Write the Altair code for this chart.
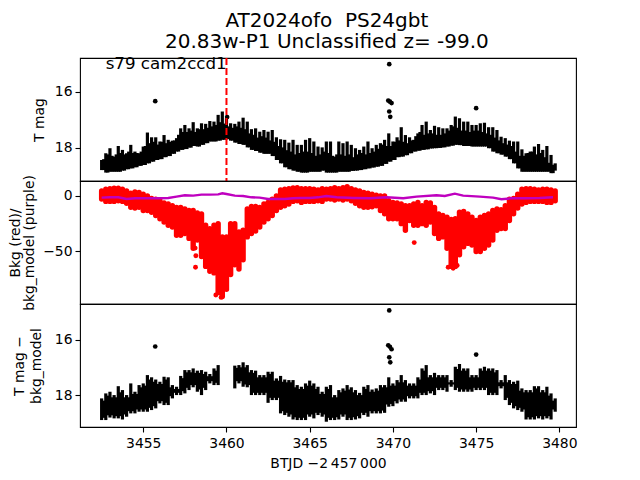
import altair as alt
import pandas as pd

FONT = "DejaVu Sans"

days = [
    3452.5, 3452.75, 3453.0, 3453.25, 3453.5, 3453.75, 3454.0, 3454.25, 3454.5, 3454.75, 3455.0,
    3455.25, 3455.5, 3455.75, 3456.0, 3456.25, 3456.5, 3456.75, 3457.0, 3457.25, 3457.5, 3457.75,
    3458.0, 3458.25, 3458.5, 3458.75, 3459.0, 3459.25, 3459.5, 3459.75, 3460.0, 3460.25, 3460.5,
    3460.75, 3461.0, 3461.25, 3461.5, 3461.75, 3462.0, 3462.25, 3462.5, 3462.75, 3463.0, 3463.25,
    3463.5, 3463.75, 3464.0, 3464.25, 3464.5, 3464.75, 3465.0, 3465.25, 3465.5, 3465.75, 3466.0,
    3466.25, 3466.5, 3466.75, 3467.0, 3467.25, 3467.5, 3467.75, 3468.0, 3468.25, 3468.5, 3468.75,
    3469.0, 3469.25, 3469.5, 3469.75, 3470.0, 3470.25, 3470.5, 3470.75, 3471.0, 3471.25, 3471.5,
    3471.75, 3472.0, 3472.25, 3472.5, 3472.75, 3473.0, 3473.25, 3473.5, 3473.75, 3474.0, 3474.25,
    3474.5, 3474.75, 3475.0, 3475.25, 3475.5, 3475.75, 3476.0, 3476.25, 3476.5, 3476.75, 3477.0,
    3477.25, 3477.5, 3477.75, 3478.0, 3478.25, 3478.5, 3478.75, 3479.0, 3479.25, 3479.5, 3479.75,
]
mid_days = [d + 0.125 for d in days[:-1]]

# top panel: T mag band (bright edge, faint edge)
mag_top = [
    18.43, 18.19, 18.01, 18.31, 17.93, 18.07, 18.19, 17.89, 18.13, 18.19, 17.95, 17.45, 17.62, 17.62,
    17.77, 17.54, 17.71, 17.74, 17.65, 17.30, 17.18, 17.30, 17.08, 17.30, 17.12, 17.14, 17.04, 17.06,
    16.82, 16.70, 16.94, 17.12, 17.14, 17.06, 16.92, 17.06, 17.33, 17.30, 17.42, 17.36, 17.42, 17.36,
    17.62, 17.69, 17.71, 17.81, 17.71, 17.89, 17.89, 17.71, 17.65, 17.77, 17.95, 17.98, 17.77,
    17.77, 18.31, 17.77, 17.83, 17.77, 17.89, 18.01, 18.07, 17.95, 17.77, 18.01, 17.89, 17.83, 17.71,
    17.48, 17.77, 17.62, 17.26, 17.54, 17.62, 17.71, 17.48, 17.18, 17.06, 17.36, 17.21, 17.26, 17.30,
    17.30, 17.18, 16.88, 16.94, 17.06, 17.06, 17.18, 17.18, 17.12, 17.10, 17.26, 17.26, 17.36, 17.60,
    17.65, 17.74, 17.77, 17.77, 18.05, 18.19, 18.13, 17.95, 17.86, 18.07, 17.93, 18.25, 18.55,
]
mag_bot = [
    18.79, 18.88, 18.85, 18.85, 18.85, 18.81, 18.76, 18.73, 18.69, 18.64, 18.61, 18.55, 18.49, 18.43,
    18.40, 18.33, 18.29, 18.21, 18.13, 18.07, 18.04, 17.99, 17.93, 17.95, 17.89, 17.83, 17.77, 17.77,
    17.74, 17.71, 17.69, 17.74, 17.81, 17.86, 17.89, 17.98, 18.07, 18.11, 18.17, 18.21, 18.21, 18.29,
    18.43, 18.55, 18.69, 18.76, 18.81, 18.85, 18.88, 18.88, 18.85, 18.85, 18.85, 18.81, 18.88,
    18.88, 18.88, 18.85, 18.85, 18.85, 18.82, 18.81, 18.79, 18.76, 18.73, 18.70, 18.67, 18.64, 18.57,
    18.49, 18.43, 18.33, 18.31, 18.26, 18.19, 18.13, 18.10, 18.07, 18.05, 18.02, 18.01, 18.00, 17.98,
    17.95, 17.92, 17.89, 17.90, 17.93, 17.93, 17.95, 17.95, 17.95, 17.95, 18.01, 18.13, 18.19, 18.24,
    18.31, 18.40, 18.55, 18.73, 18.85, 18.85, 18.85, 18.85, 18.85, 18.85, 18.85, 18.90, 18.81,
]
# valleys between the spikes of the top band
mag_mid = [
    18.40, 18.23, 18.28, 18.23, 18.18, 18.23, 18.13, 18.18, 18.18, 18.13, 17.93, 17.83, 17.78, 17.88,
    17.78, 17.83, 17.78, 17.73, 17.53, 17.43, 17.43, 17.38, 17.43, 17.33, 17.33, 17.28, 17.23, 17.18,
    17.08, 17.13, 17.23, 17.28, 17.23, 17.28, 17.33, 17.48, 17.53, 17.63, 17.58, 17.63, 17.73, 17.78,
    17.93, 17.98, 18.08, 18.13, 18.23, 18.18, 18.13, 18.13, 18.18, 18.28, 18.23, 18.13,
    18.18, 18.28, 18.23, 18.23, 18.28, 18.23, 18.33, 18.23, 18.18, 18.23, 18.18, 18.13, 18.03, 17.88,
    17.93, 17.93, 17.78, 17.73, 17.78, 17.83, 17.73, 17.58, 17.43, 17.53, 17.48, 17.48, 17.53, 17.53,
    17.48, 17.38, 17.23, 17.28, 17.38, 17.38, 17.43, 17.38, 17.38, 17.43, 17.48, 17.53, 17.63, 17.73,
    17.83, 17.88, 17.93, 18.13, 18.28, 18.28, 18.18, 18.13, 18.23, 18.18, 18.33, 18.53, 18.60,
]
mag_out_x = [3455.72, 3460.04, 3469.78, 3469.72, 3469.82, 3469.92, 3469.78, 3469.84, 3475.0]
mag_out_y = [16.33, 16.90, 15.01, 16.31, 16.35, 16.40, 16.70, 16.89, 16.58]

# middle panel: background (red band, purple model)
bkg_top = [
    4.6, 6.1, 6.7, 7.0, 7.0, 6.1, 4.6, 2.5, 3.7, 3.1, 1.6, 0.1, -2.2, -2.8, -4.3, -6.4, -7.3, -8.8,
    -10.3, -10.3, -11.8, -13.2, -13.2, -15.3, -16.2, -26.6, -29.6, -26.6, -25.1, -37.1, -37.1, -25.1,
    -25.1, -32.6, -31.1, -11.8, -9.4, -9.4, -10.3, -7.3, -5.8, -2.8, 0.1, 5.5, 6.1, 6.7, 7.3, 7.6,
    6.7, 6.7, 6.7, 6.1, 5.5, 6.7, 6.1,
    6.7, 7.6, 6.7, 7.6, 8.5, 6.7, 5.5, 4.6, 3.1, 2.5, 1.6, 0.7, 0.1, 0.1, -4.3, -5.8, -6.4, -7.3,
    -8.8, -8.8, -7.3, -5.8, -8.8, -5.8, -6.4, -10.3, -16.2, -17.7, -19.2, -21.3, -20.7, -14.7, -14.1,
    -16.2, -19.2, -22.2, -19.2, -17.7, -16.2, -13.2, -11.8, -12.4, -8.8, -2.8, -2.2, 1.6, 6.1, 6.7,
    6.7, 6.1, 5.5, 6.1, 6.1, 5.5, 4.6,
]
bkg_bot = [
    -2.8, -4.9, -4.9, -4.9, -4.3, -4.9, -6.7, -10.3, -10.9, -10.3, -13.2, -13.2, -14.7, -17.7, -20.7,
    -23.7, -26.6, -28.1, -35.6, -35.6, -34.1, -38.5, -47.5, -40.0, -54.9, -63.9, -68.3, -69.8, -87.7,
    -91.2, -84.7, -71.3, -62.4, -66.2, -57.9, -37.1, -34.1, -31.7, -28.1, -23.7, -20.7, -17.7, -13.2,
    -10.3, -8.8, -7.3, -4.9, -4.3, -5.8, -4.9, -4.9, -4.9, -4.3, -4.9, -2.8,
    -2.8, -3.7, -2.8, -3.7, -2.8, -4.3, -6.7, -8.8, -10.3, -10.3, -9.7, -8.8, -13.2, -16.2, -20.7,
    -20.7, -20.7, -25.1, -31.1, -22.2, -26.6, -26.6, -25.1, -26.6, -23.7, -34.1, -38.5, -37.1, -47.5,
    -63.9, -63.9, -53.4, -46.0, -43.0, -44.5, -50.4, -50.4, -47.5, -44.5, -40.0, -31.1, -29.6, -29.6,
    -22.2, -16.2, -10.9, -7.3, -5.8, -4.9, -4.9, -4.9, -4.9, -5.8, -5.8, -4.3,
]
bkg_out_x = [3458.14, 3458.16, 3458.12, 3459.36, 3459.68, 3471.28, 3473.32, 3473.62, 3473.86]
bkg_out_y = [-64.6, -54.2, -47.3, -89.9, -92.0, -42.3, -64.6, -65.5, -63.0]
model_x = [
    3452.5, 3453.0, 3453.5, 3454.0, 3454.5, 3455.0, 3455.5, 3456.0, 3456.5, 3457.0, 3457.5, 3458.0,
    3458.5, 3459.0, 3459.5, 3459.75, 3460.0, 3460.5, 3461.0, 3461.5, 3462.0, 3462.5, 3463.0, 3463.5,
    3464.0, 3464.5, 3465.0, 3465.5, 3466.0, 3466.62, 3467.62, 3468.62, 3469.62, 3470.62, 3471.42,
    3472.62, 3473.12, 3473.72, 3474.22, 3475.22, 3476.02, 3476.52, 3477.12, 3478.02, 3478.82, 3479.62,
]
model_y = [
    -1.5, -1.2, -1.2, -2.7, -2.1, -2.1, -2.1, -2.1, -1.8, -0.6, 0.6, 0.3, 1.2, 1.2, 1.5, 2.4, 1.8,
    0.3, 0.0, -1.2, -1.5, -2.7, -2.7, -2.7, -2.1, -1.8, -1.8, -1.2, 0.0, -1.2, -1.8, -2.1, -1.2,
    -2.1, -0.6, 0.6, 0.0, 2.1, 0.3, -0.6, -1.5, -3.0, -2.1, -2.1, -1.8, -1.2,
]

# bottom panel: T mag - bkg_model band
sub_top = [
    18.12, 17.94, 17.88, 18.0, 17.68, 17.82, 18.0, 17.58, 17.88, 17.64, 17.58, 17.28, 17.36, 17.44,
    17.52, 17.34, 17.36, 17.64, 17.70, 17.31, 17.10, 17.10, 17.04, 17.12, 17.10, 17.16, 17.24, 17.04,
    16.92, None, None, None, 16.94, 16.92, 16.82, 16.92, 17.10, 17.12, 17.28, 17.28, 17.16, 17.16,
    17.40, 17.31, 17.44, 17.46, 17.46, 17.64, 17.70, 17.58, 17.48, 17.58, 17.70, 17.88, 17.70,
    17.64, 18.0, 17.82, 17.76, 17.64, 17.72, 17.82, 17.92, 17.70, 17.64, 17.80, 17.76, 17.64, 17.64,
    17.36, 17.58, 17.46, 17.28, 17.46, 17.58, 17.58, 17.36, 17.04, 16.92, 17.28, 17.20, 17.28, 17.28,
    17.28, 17.46, 16.98, 16.88, 17.04, 17.04, 17.28, 17.28, 17.04, 16.98, 17.04, 17.04, 17.10, 17.46,
    17.28, 17.46, 17.52, 17.48, 17.76, 17.82, 17.82, 17.68, 17.68, 17.82, 17.70, 17.94, 18.12,
]
sub_bot = [
    18.90, 18.90, 18.81, 18.84, 18.84, 18.88, 18.78, 18.66, 18.66, 18.60, 18.60, 18.60, 18.54, 18.48,
    18.30, 18.36, 18.36, 18.12, 18.0, 18.0, 17.94, 17.82, 17.72, 17.88, 18.0, 17.82, 17.58, 17.64,
    17.64, None, None, None, 17.76, 17.58, 17.70, 17.72, 18.0, 18.0, 18.0, 18.0, 18.28, 18.18, 18.18,
    18.66, 18.72, 18.78, 18.88, 18.90, 18.90, 18.90, 18.78, 18.84, 18.72, 18.78, 18.96,
    18.90, 18.90, 18.88, 18.78, 18.90, 18.90, 18.88, 18.84, 18.72, 18.78, 18.66, 18.66, 18.66, 18.64,
    18.42, 18.40, 18.30, 18.24, 18.24, 18.12, 18.12, 18.12, 18.0, 18.0, 17.94, 18.0, 17.82, 17.82,
    17.88, 17.70, 17.82, 17.88, 17.88, 17.88, 17.88, 17.82, 17.82, 17.82, 18.0, 18.0, 18.0, 17.76,
    18.18, 18.36, 18.48, 18.54, 18.60, 18.88, 18.88, 18.88, 18.84, 18.88, 18.84, 18.88, 18.60,
]
sub_mid_top = [
    18.20, 18.02, 18.08, 18.08, 17.90, 18.08, 18.08, 17.96, 17.96, 17.72, 17.66, 17.44, 17.52, 17.60,
    17.60, 17.44, 17.72, 17.78, 17.78, 17.39, 17.18, 17.18, 17.20, 17.20, 17.24, 17.32, 17.32, 17.12,
    None, None, None, None,
    17.02, 17.0, 17.0, 17.18, 17.2, 17.36, 17.36, 17.36, 17.24, 17.48, 17.48, 17.52, 17.54, 17.54,
    17.72, 17.78, 17.78, 17.66, 17.66, 17.78, 17.96, 17.96,
    17.78, 18.08, 18.08, 17.90, 17.84, 17.80, 17.90, 18.0, 18.0, 17.78, 17.88, 17.88, 17.84, 17.72,
    17.72, 17.66, 17.66, 17.54, 17.54, 17.66, 17.66, 17.66, 17.44, 17.12, 17.36, 17.36, 17.36, 17.36,
    17.36, 17.54, 17.54, 17.06, 17.12, 17.12, 17.36, 17.36, 17.36, 17.12, 17.12, 17.12, 17.18, 17.54,
    17.54, 17.54, 17.60, 17.60, 17.84, 17.90, 17.90, 17.90, 17.76, 17.90, 17.90, 18.02, 18.20,
]
sub_mid_bot = [
    18.82, 18.73, 18.73, 18.76, 18.76, 18.70, 18.58, 18.58, 18.52, 18.52, 18.52, 18.46, 18.40, 18.22,
    18.22, 18.28, 18.04, 17.92, 17.92, 17.86, 17.74, 17.64, 17.64, 17.80, 17.74, 17.50, 17.50, 17.56,
    None, None, None, None,
    17.50, 17.50, 17.62, 17.64, 17.92, 17.92, 17.92, 17.92, 18.10, 18.10, 18.10, 18.58, 18.64, 18.70,
    18.80, 18.82, 18.82, 18.70, 18.70, 18.64, 18.64, 18.70,
    18.82, 18.82, 18.80, 18.70, 18.70, 18.82, 18.80, 18.76, 18.64, 18.64, 18.58, 18.58, 18.58, 18.56,
    18.34, 18.32, 18.22, 18.16, 18.16, 18.04, 18.04, 18.04, 17.92, 17.92, 17.86, 17.86, 17.74, 17.74,
    17.74, 17.62, 17.62, 17.74, 17.80, 17.80, 17.80, 17.74, 17.74, 17.74, 17.74, 17.92, 17.92, 17.68,
    17.68, 18.10, 18.28, 18.40, 18.46, 18.52, 18.80, 18.80, 18.76, 18.76, 18.76, 18.76, 18.52,
]
sub_out_x = [3455.72, 3469.78, 3469.72, 3469.82, 3469.92, 3469.78, 3469.84, 3475.0]
sub_out_y = [16.25, 14.95, 16.21, 16.26, 16.35, 16.64, 16.82, 16.54]

x_ticks = [3455, 3460, 3465, 3470, 3475, 3480]
marker_day = [3460.0]
note_x = [3452.74]
note_y = [15.0]
note_text = ["s79 cam2ccd1"]
title_lines = ["AT2024ofo\u00a0\u00a0PS24gbt", "20.83w-P1 Unclassified z= -99.0"]

W, H = 496, 123
x_scale = alt.Scale(domain=[3451.2, 3481.0], nice=False, zero=False)


def band(xs, lo, hi):
    rows = [(a, b, c) for a, b, c in zip(xs, lo, hi, strict=True) if b is not None]
    return pd.DataFrame(rows, columns=["d", "lo", "hi"])


def xy(xs, ys):
    return pd.DataFrame({"d": xs, "v": list(ys)})


def ax(title, vals, pad, lh=15):
    return alt.Axis(title=title, values=vals, titlePadding=pad, titleLineHeight=lh)


def hx():
    return alt.X("d:Q", scale=x_scale, axis=None)


# panel 1
s1 = alt.Scale(domain=[19.18, 14.79], nice=False, zero=False)
a1 = ax("T mag", [16, 18], 8)
p1 = alt.layer(
    alt.Chart(band(days, mag_top, mag_bot)).mark_rule(color="black", strokeWidth=3.2).encode(
        x=hx(), y=alt.Y("lo:Q", scale=s1, axis=a1), y2="hi:Q"),
    alt.Chart(band(mid_days, mag_mid, mag_bot[:-1])).mark_rule(color="black", strokeWidth=3.2).encode(
        x=hx(), y=alt.Y("lo:Q", scale=s1, axis=a1), y2="hi:Q"),
    alt.Chart(xy(mag_out_x, mag_out_y)).mark_circle(color="black", size=22, opacity=1).encode(
        x=hx(), y=alt.Y("v:Q", scale=s1, axis=a1)),
    alt.Chart(pd.DataFrame({"d": marker_day})).mark_rule(color="red", strokeWidth=2, strokeDash=[7, 3]).encode(
        x=hx()),
    alt.Chart(pd.DataFrame({"d": note_x, "v": note_y, "t": note_text})).mark_text(
        align="left", baseline="middle", fontSize=16.7, font=FONT, color="black").encode(
        x=hx(), y=alt.Y("v:Q", scale=s1, axis=a1), text="t:N"),
).properties(width=W, height=H)

# panel 2
s2 = alt.Scale(domain=[-98.0, 13.6], nice=False, zero=False)
a2 = ax(["Bkg (red)/", "bkg_model (purple)"], [0, -50], 6, 14)
p2 = alt.layer(
    alt.Chart(band(days, bkg_top, bkg_bot)).mark_rule(color="red", strokeWidth=5.4, strokeCap="round").encode(
        x=hx(), y=alt.Y("lo:Q", scale=s2, axis=a2), y2="hi:Q"),
    alt.Chart(xy(bkg_out_x, bkg_out_y)).mark_circle(color="red", size=24, opacity=1).encode(
        x=hx(), y=alt.Y("v:Q", scale=s2, axis=a2)),
    alt.Chart(xy(model_x, model_y)).mark_line(color="#bf00bf", strokeWidth=2.4).encode(
        x=hx(), y=alt.Y("v:Q", scale=s2, axis=a2)),
).properties(width=W, height=H)

# panel 3
s3 = alt.Scale(domain=[19.15, 14.72], nice=False, zero=False)
a3 = ax(["T mag \u2212", "bkg_model"], [16, 18], 11, 17)
x3 = alt.X("d:Q", scale=x_scale, axis=alt.Axis(
    title="BTJD \u22122\u2009457\u2009000", values=x_ticks, format="d", titlePadding=7, labelPadding=4))
p3 = alt.layer(
    alt.Chart(band(days, sub_top, sub_bot)).mark_rule(color="black", strokeWidth=3.2).encode(
        x=x3, y=alt.Y("lo:Q", scale=s3, axis=a3), y2="hi:Q"),
    alt.Chart(band(mid_days, sub_mid_top, sub_mid_bot)).mark_rule(color="black", strokeWidth=3.2).encode(
        x=x3, y=alt.Y("lo:Q", scale=s3, axis=a3), y2="hi:Q"),
    alt.Chart(xy(sub_out_x, sub_out_y)).mark_circle(color="black", size=22, opacity=1).encode(
        x=x3, y=alt.Y("v:Q", scale=s3, axis=a3)),
).properties(width=W, height=H)

chart = alt.vconcat(p1, p2, p3, spacing=0, bounds="flush").properties(
    title=alt.TitleParams(text=title_lines, fontSize=20, font=FONT, fontWeight="normal",
                          color="black", anchor="middle", lineHeight=21, offset=3, dx=34),
    padding={"left": 0, "top": 3, "right": 0, "bottom": 0},
).configure_view(stroke="black", strokeWidth=1.1).configure_axis(
    grid=False, domain=False, labelFont=FONT, titleFont=FONT, labelFontSize=13.9, titleFontSize=13.9,
    titleFontWeight="normal", labelColor="black", titleColor="black", tickColor="black",
    tickSize=5, tickWidth=1.1, labelPadding=3,
)

chart.save("out.html", embed_options={"renderer": "svg", "actions": False})
